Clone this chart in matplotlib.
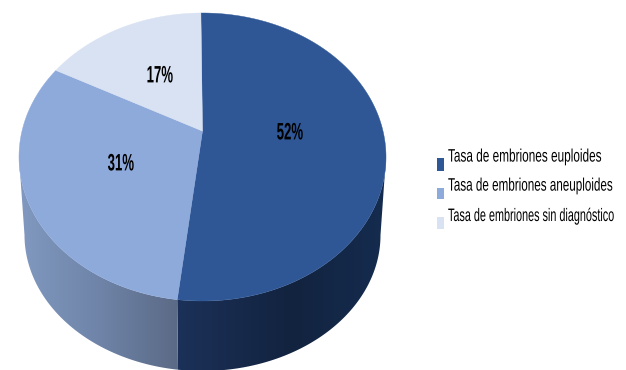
import numpy as np
import matplotlib
matplotlib.use("Agg")
import matplotlib.pyplot as plt
import matplotlib.patheffects as pe
from matplotlib.patches import Polygon, Rectangle
from matplotlib.colors import LinearSegmentedColormap
from matplotlib.text import Text
from matplotlib.transforms import Affine2D, Bbox

categories = ["Tasa de embriones euploides",
              "Tasa de embriones aneuploides",
              "Tasa de embriones sin diagnóstico"]
shares = [52, 31, 17]
labels = ["52%", "31%", "17%"]
top_colors = ["#2F5796", "#8EAADB", "#D9E2F3"]

W, H = 626, 370
CX = 202.5
TILT = 0.18
START_DEG = -0.6

fig = plt.figure(figsize=(W / 100, H / 100), dpi=100)
ax = fig.add_axes([0, 0, 1, 1])
ax.set_xlim(0, W)
ax.set_ylim(H, 0)
ax.axis("off")


class Stretch(pe.AbstractPathEffect):
    """Scale glyph outlines about a fixed display point."""

    def __init__(self, fx, fy, x0, y0):
        super().__init__()
        self.fx, self.fy, self.x0, self.y0 = fx, fy, x0, y0

    def draw_path(self, renderer, gc, tpath, affine, rgbFace=None):
        warp = (Affine2D().translate(-self.x0, -self.y0)
                .scale(self.fx, self.fy).translate(self.x0, self.y0))
        renderer.draw_path(gc, tpath, affine + warp, rgbFace)


class TallText(Text):
    """Text with narrow, tall proportions; reports the box it really occupies."""

    def __init__(self, x, y, s, fx, fy, **kw):
        super().__init__(x, y, s, **kw)
        self.fx, self.fy = fx, fy
        self.x_disp, self.y_disp = x, H - y
        self.set_path_effects([Stretch(fx, fy, self.x_disp, self.y_disp)])

    def get_window_extent(self, renderer=None, dpi=None):
        box = super().get_window_extent(renderer, dpi)
        return Bbox.from_extents(self.x_disp + (box.x0 - self.x_disp) * self.fx,
                                 self.y_disp + (box.y0 - self.y_disp) * self.fy,
                                 self.x_disp + (box.x1 - self.x_disp) * self.fx,
                                 self.y_disp + (box.y1 - self.y_disp) * self.fy)


def rim(theta, rx, ry, cy):
    """Perspective projection of a disc rim; theta runs clockwise from the top."""
    px, py = np.sin(theta), np.cos(theta)
    root2 = 1 - TILT ** 2
    denom = 1 + TILT * py
    x = CX + rx * np.sqrt(root2) * px / denom
    y = cy - TILT * ry - ry * root2 * py / denom
    return x, y


TOP = (183.5, 144, 157)
BOTTOM = (178, 136, 235)
apex = (CX, TOP[2] - TILT * TOP[1])

edges = np.radians(np.concatenate([[0], np.cumsum(shares)]) * 3.6 + START_DEG)
turn = np.arccos(-TILT)  # rim angle of the widest point of the disc

# Side wall of the visible front half, shaded along x
wall_maps = [
    LinearSegmentedColormap.from_list("w0", [(0, "#1C3159"), (0.55, "#12233F"), (1, "#152C4F")]),
    LinearSegmentedColormap.from_list("w1", [(0, "#8199C0"), (0.5, "#6F84A8"), (1, "#5B6A86")]),
]
spans = [(turn, edges[1]), (edges[1], 2 * np.pi - turn)]
for i, (a, b) in enumerate(spans):
    t = np.linspace(a, b, 300)
    xt, yt = rim(t, *TOP)
    xb, yb = rim(t[::-1], *BOTTOM)
    poly = Polygon(np.column_stack([np.r_[xt, xb], np.r_[yt, yb]]), closed=True,
                   fc="none", ec="none")
    ax.add_patch(poly)
    lo, hi = min(xt.min(), xb.min()), max(xt.max(), xb.max())
    grad = np.linspace(0, 1, 256)[None, :]
    im = ax.imshow(grad, extent=[lo, hi, H + 5, 0], cmap=wall_maps[i], aspect="auto", zorder=1)
    im.set_clip_path(poly)

# Top face
for i, (a, b) in enumerate(zip(edges[:-1], edges[1:])):
    t = np.linspace(a, b, 300)
    x, y = rim(t, *TOP)
    pts = np.column_stack([np.r_[apex[0], x], np.r_[apex[1], y]])
    ax.add_patch(Polygon(pts, closed=True, fc=top_colors[i], ec=top_colors[i], lw=0.3, zorder=2))

ax.set_xlim(0, W)
ax.set_ylim(H, 0)

# Percentage labels sit at fixed spots over each slice
for txt, (lx, ly) in zip(labels, [(290, 134), (121, 165), (160, 77)]):
    ax.add_artist(TallText(lx, ly, txt, 1.0, 1.8, ha="center", va="center", fontsize=9.5,
                           fontweight="bold", family="Liberation Sans",
                           color="black", zorder=3))

# Legend rows: swatch plus a narrow label, each row sized to its own width
for name, col, (by, bh), ty, fs in zip(categories, top_colors,
                                       [(158, 13), (188, 11), (217, 12)],
                                       [157, 186, 216], [8.5, 8.4, 7.8]):
    ax.add_patch(Rectangle((437, by), 7, bh, fc=col, ec="none", zorder=3))
    ax.add_artist(TallText(448, ty, name, 1.0, 13 / fs, ha="left", va="center", fontsize=fs,
                           family="Liberation Sans", color="black", zorder=3))

fig.savefig("out.png", dpi=100)
